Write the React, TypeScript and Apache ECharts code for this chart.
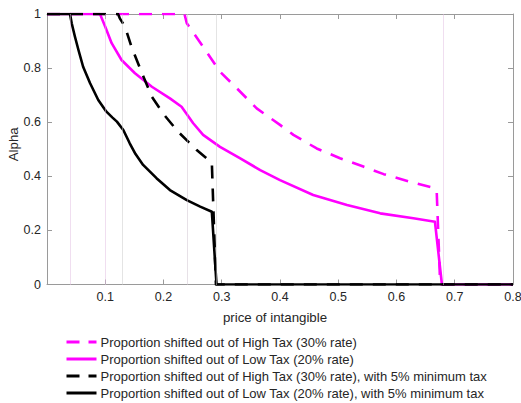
import React, { useEffect, useRef } from "react";
import * as echarts from "echarts";

// Magenta dashed: Proportion shifted out of High Tax (30% rate)
const mdX = [0, 0.236, 0.24, 0.268, 0.297, 0.326, 0.36, 0.4, 0.423, 0.463, 0.503, 0.543, 0.578, 0.623, 0.666, 0.669, 0.675, 0.8];
const mdY = [1, 1, 0.966, 0.879, 0.787, 0.725, 0.651, 0.59, 0.553, 0.503, 0.467, 0.436, 0.408, 0.38, 0.356, 0.345, 0, 0];

// Magenta solid: Proportion shifted out of Low Tax (20% rate)
const msX = [0, 0.091, 0.1, 0.111, 0.128, 0.151, 0.18, 0.211, 0.231, 0.251, 0.268, 0.297, 0.331, 0.366, 0.4, 0.457, 0.515, 0.572, 0.629, 0.666, 0.678, 0.8];
const msY = [1, 1, 0.953, 0.892, 0.83, 0.781, 0.731, 0.688, 0.657, 0.596, 0.553, 0.509, 0.467, 0.423, 0.386, 0.331, 0.294, 0.263, 0.245, 0.232, 0, 0];

// Black dashed: High Tax with 5% minimum tax
const bdX = [0, 0.122, 0.125, 0.134, 0.145, 0.163, 0.18, 0.2, 0.225, 0.257, 0.283, 0.29, 0.8];
const bdY = [1, 1, 0.984, 0.953, 0.879, 0.781, 0.694, 0.63, 0.565, 0.497, 0.45, 0, 0];

// Black solid: Low Tax with 5% minimum tax
const bsX = [0, 0.0395, 0.0424, 0.048, 0.054, 0.062, 0.074, 0.088, 0.102, 0.112, 0.12, 0.131, 0.142, 0.152, 0.165, 0.188, 0.211, 0.24, 0.263, 0.283, 0.291, 0.8];
const bsY = [1, 1, 0.966, 0.916, 0.867, 0.805, 0.744, 0.682, 0.639, 0.618, 0.602, 0.571, 0.522, 0.482, 0.442, 0.393, 0.349, 0.312, 0.288, 0.269, 0, 0];

// Vertical reference lines
const vLines = [0.04, 0.1, 0.132, 0.241, 0.292, 0.677];
const vLineColors = ["#e0bde0", "#e0bde0", "#c8c8c8", "#cfc3cf", "#c8c8c8", "#e0bde0"];

const seriesNames = [
  "Proportion shifted out of High Tax (30% rate)",
  "Proportion shifted out of Low Tax (20% rate)",
  "Proportion shifted out of High Tax (30% rate), with 5% minimum tax",
  "Proportion shifted out of Low Tax (20% rate), with 5% minimum tax",
];
const seriesDashed = [true, false, true, false];

const xTicks = { min: 0, max: 0.8, interval: 0.1 };
const yTicks = { min: 0, max: 1, interval: 0.2 };

const pairs = (xs: number[], ys: number[]) => xs.map((x, i) => [x, ys[i]]);

const DASH_ICON = "path://M0,0L13,0L13,3L0,3Z M22,0L30,0L30,3L22,3Z";
const SOLID_ICON = "path://M0,0L30,0L30,3L0,3Z";

export default function App() {
  const ref = useRef<HTMLDivElement>(null);
  useEffect(() => {
    if (!ref.current) return;
    const chart = echarts.init(ref.current, undefined, { renderer: "svg" });
    const font = "Liberation Sans, Arial, Helvetica, sans-serif";
    const axisColor = "#9a9a9a";
    const textColor = "#262626";
    const baseX = {
      type: "value" as const,
      min: xTicks.min,
      max: xTicks.max,
      interval: xTicks.interval,
      splitLine: { show: false },
      axisLine: { show: true, onZero: false, lineStyle: { color: axisColor, width: 1 } },
      axisTick: { show: true, inside: true, length: 5, lineStyle: { color: axisColor } },
    };
    const baseY = {
      type: "value" as const,
      min: yTicks.min,
      max: yTicks.max,
      interval: yTicks.interval,
      splitLine: { show: false },
      axisLine: { show: true, onZero: false, lineStyle: { color: axisColor, width: 1 } },
      axisTick: { show: true, inside: true, length: 5, lineStyle: { color: axisColor } },
    };
    const mk = (name: string, xs: number[], ys: number[], color: string, dashed: boolean, extra: any = {}) => ({
      name,
      type: "line",
      data: pairs(xs, ys),
      showSymbol: false,
      symbol: "none",
      lineStyle: { color, width: 2.6, type: dashed ? [13, 10] : "solid", join: "round" },
      itemStyle: { color },
      ...extra,
    });
    chart.setOption({
      animation: false,
      backgroundColor: "#ffffff",
      textStyle: { fontFamily: font },
      grid: { left: 47, right: 8, top: 14, bottom: 118.5, containLabel: false, outerBoundsMode: "none" },
      xAxis: [
        {
          ...baseX,
          position: "bottom",
          name: "price of intangible",
          nameLocation: "middle",
          nameGap: 26,
          nameMoveOverlap: false,
          nameTextStyle: { fontSize: 13.3, color: textColor, fontFamily: font, padding: [0, 10, 0, 0] },
          axisLabel: {
            show: true,
            margin: 6,
            fontSize: 12.5,
            color: textColor,
            fontFamily: font,
            formatter: (v: number) => (v === 0 ? "" : String(Math.round(v * 10) / 10)),
          },
        },
        { ...baseX, position: "top", axisLabel: { show: false } },
      ],
      yAxis: [
        {
          ...baseY,
          position: "left",
          name: "Alpha",
          nameLocation: "middle",
          nameGap: 27,
          nameMoveOverlap: false,
          nameTextStyle: { fontSize: 13.3, color: textColor, fontFamily: font, padding: [0, 0, 0, 10] },
          axisLabel: { show: true, margin: 6, fontSize: 12.5, color: textColor, fontFamily: font },
        },
        { ...baseY, position: "right", axisLabel: { show: false } },
      ],
      legend: {
        orient: "vertical",
        left: 66.5,
        top: 335,
        padding: 0,
        itemWidth: 30,
        itemHeight: 3,
        itemGap: 3,
        textStyle: { fontSize: 13, lineHeight: 14, color: textColor, fontFamily: font, padding: [0, 0, 0, -1] },
        data: seriesNames.map((n, i) => ({ name: n, icon: seriesDashed[i] ? DASH_ICON : SOLID_ICON })),
      },
      series: [
        mk(seriesNames[0], mdX, mdY, "#ff00ff", true, {
          markLine: {
            silent: true,
            symbol: "none",
            label: { show: false },
            emphasis: { disabled: true },
            data: vLines.map((v, i) => ({ xAxis: v, lineStyle: { color: vLineColors[i], type: "dotted", width: 1 } })),
          },
        }),
        mk(seriesNames[1], msX, msY, "#ff00ff", false),
        mk(seriesNames[2], bdX, bdY, "#000000", true),
        mk(seriesNames[3], bsX, bsY, "#000000", false),
      ],
    });
    return () => chart.dispose();
  }, []);
  return (
    <div
      ref={ref}
      style={{ position: "fixed", left: 0, top: 0, width: 521, height: 403, background: "#fff" }}
    />
  );
}
